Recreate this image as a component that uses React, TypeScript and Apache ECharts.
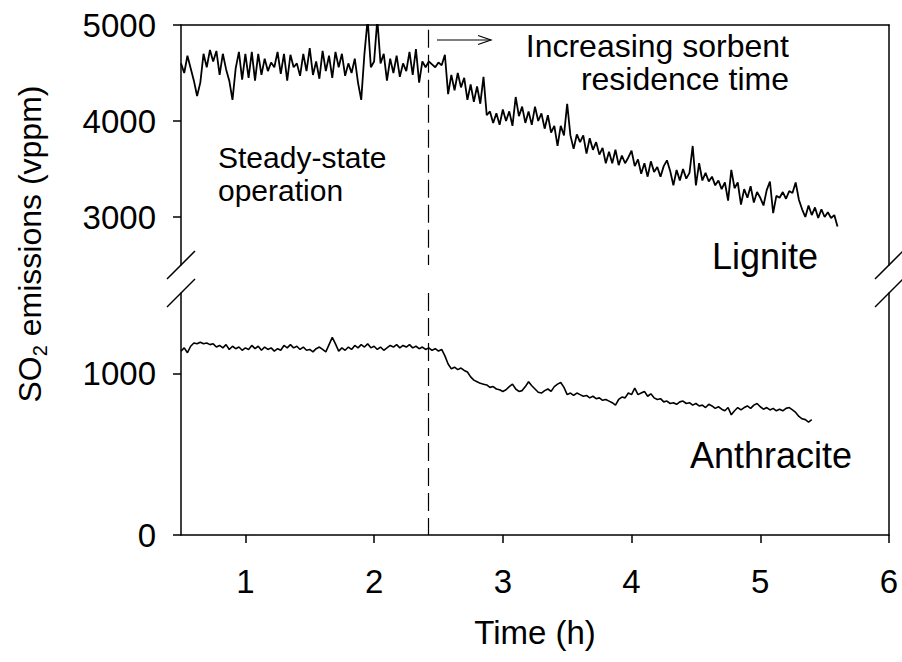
import React, { useEffect, useRef } from "react";
import * as echarts from "echarts";

// Time grid of the traces (h)
const T_START = 0.5;
const T_STEP = 0.025;

// SO2 emissions, lignite (vppm), every 0.025 h from 0.5 h
const lignite: number[] = [
  4600, 4500, 4680, 4550, 4420, 4260, 4400, 4700, 4560, 4740,
  4620, 4730, 4480, 4700, 4540, 4420, 4220, 4550, 4720, 4430,
  4700, 4450, 4720, 4420, 4700, 4480, 4650, 4520, 4610, 4560,
  4720, 4490, 4700, 4420, 4690, 4560, 4600, 4470, 4700, 4520,
  4760, 4480, 4620, 4440, 4730, 4520, 4680, 4450, 4720, 4560,
  4700, 4470, 4600, 4500, 4650, 4400, 4220, 4700, 5060, 4560,
  4620, 5060, 4600, 4700, 4420, 4650, 4500, 4680, 4460, 4600,
  4520, 4720, 4480, 4750, 4400, 4620, 4560, 4620, 4590, 4560,
  4610, 4580, 4690, 4280, 4480, 4320, 4500, 4350, 4450, 4220,
  4380, 4200, 4360, 4180, 4460, 4060, 4100, 3980, 4080, 3960,
  4120, 4000, 4100, 3950, 4250, 4050, 4150, 3980, 4100, 3960,
  4150, 4000, 4080, 3920, 4060, 3880, 3950, 3740, 3950, 3850,
  4180, 3850, 3710, 3860, 3780, 3850, 3660, 3820, 3700, 3780,
  3650, 3720, 3560, 3680, 3560, 3700, 3540, 3640, 3560, 3620,
  3690, 3530, 3600, 3450, 3560, 3420, 3580, 3470, 3520, 3420,
  3530, 3590, 3480, 3330, 3490, 3380, 3500, 3400, 3460, 3740,
  3330, 3560, 3380, 3460, 3370, 3420, 3330, 3380, 3290, 3360,
  3170, 3490, 3300, 3360, 3130, 3290, 3200, 3320, 3150, 3260,
  3200, 3120, 3280, 3370, 3040, 3220, 3200, 3260, 3190, 3270,
  3250, 3360, 3180, 3080, 3000, 3120, 3020, 3100, 2990, 3080,
  3000, 3050, 2990, 3020, 2900,
];

// SO2 emissions, anthracite (vppm), every 0.025 h from 0.5 h
const anthracite: number[] = [
  1140, 1160, 1130, 1170, 1190, 1185, 1195, 1185, 1190, 1180,
  1185, 1165, 1175, 1160, 1180, 1150, 1170, 1155, 1165, 1145,
  1160, 1150, 1175, 1155, 1170, 1145, 1165, 1150, 1160, 1140,
  1155, 1145, 1175, 1160, 1180, 1160, 1170, 1150, 1165, 1145,
  1150, 1135, 1155, 1165, 1150, 1135, 1180, 1225, 1185, 1140,
  1160, 1145, 1165, 1150, 1175, 1160, 1180, 1165, 1185, 1160,
  1170, 1150, 1165, 1145, 1160, 1175, 1165, 1180, 1160, 1175,
  1165, 1180, 1160, 1170, 1155, 1165, 1150, 1160, 1145, 1155,
  1140, 1150, 1110, 1060, 1030, 1040, 1025, 1035, 1020, 1010,
  980, 960, 950, 940, 935, 930, 915, 920, 905, 900,
  890, 900, 920, 935, 905, 890, 895, 920, 950, 925,
  905, 885, 880, 895, 905, 890, 920, 935, 945, 915,
  870, 880, 865, 880, 870, 860, 865, 850, 860, 845,
  850, 835, 840, 830, 820, 805, 840, 855, 850, 880,
  870, 910, 870, 880, 890, 860, 875, 850, 840, 845,
  825, 830, 815, 820, 810, 825, 830, 815, 820, 805,
  815, 800, 805, 790, 810, 800, 785, 795, 780, 770,
  790, 745, 770, 790, 775, 790, 800, 785, 805, 815,
  795, 780, 790, 775, 785, 770, 780, 770, 785, 790,
  775, 760, 735, 720, 715, 700, 715,
];

const xTicks = [1, 2, 3, 4, 5, 6];
const upperTicks = [3000, 4000, 5000];
const lowerTicks = [0, 1000];
const changeTime = 2.42;

const FONT = "'Liberation Sans', Arial, Helvetica, sans-serif";

export default function App() {
  const ref = useRef<HTMLDivElement>(null);

  useEffect(() => {
    if (!ref.current) return;
    const chart = echarts.init(ref.current, null, { renderer: "svg" });

    const lignData = lignite.map((v, i) => [T_START + i * T_STEP, v]);
    const anthData = anthracite.map((v, i) => [T_START + i * T_STEP, v]);

    const axisLine = { show: true, onZero: false, lineStyle: { color: "#000", width: 1.5 } };
    const tickStyle = { color: "#000", width: 1.5 };
    const labelStyle = {
      color: "#000", fontSize: 33, fontFamily: FONT,
      formatter: (v: number) => String(v),
    };

    const L = 181, R = 889;
    const gTop = 25, gMid1 = 265, gMid2 = 293, gBot = 535;

    const brk = (x: number, y: number) => ({
      type: "line",
      shape: { x1: x - 14, y1: y + 14, x2: x + 14, y2: y - 14 },
      style: { stroke: "#000", lineWidth: 1.5 },
    });

    const dashStyle = { color: "#000", width: 1.2, type: [18, 7] as number[] };

    chart.setOption({
      animation: false,
      backgroundColor: "#fff",
      grid: [
        { left: L, right: 902 - R, top: gTop, height: gMid1 - gTop },
        { left: L, right: 902 - R, top: gMid2, height: gBot - gMid2 },
      ],
      xAxis: [
        {
          gridIndex: 0, type: "value", min: 0.5, max: 6, position: "top",
          axisLine, axisTick: { show: false }, axisLabel: { show: false }, splitLine: { show: false },
        },
        {
          gridIndex: 1, type: "value", min: 0.5, max: 6, position: "bottom",
          axisLine,
          axisTick: { show: true, inside: false, length: 8, lineStyle: tickStyle, customValues: xTicks },
          axisLabel: { ...labelStyle, margin: 30, customValues: xTicks },
          splitLine: { show: false },
        },
      ],
      yAxis: [
        {
          gridIndex: 0, type: "value", min: 2500, max: 5000, position: "left",
          axisLine,
          axisTick: { show: true, inside: false, length: 8, lineStyle: tickStyle, customValues: upperTicks },
          axisLabel: { ...labelStyle, margin: 25, customValues: upperTicks },
          splitLine: { show: false },
        },
        {
          gridIndex: 1, type: "value", min: 0, max: 1500, position: "left",
          axisLine,
          axisTick: { show: true, inside: false, length: 8, lineStyle: tickStyle, customValues: lowerTicks },
          axisLabel: { ...labelStyle, margin: 25, customValues: lowerTicks },
          splitLine: { show: false },
        },
        {
          gridIndex: 0, type: "value", min: 2500, max: 5000, position: "right",
          axisLine, axisTick: { show: false }, axisLabel: { show: false }, splitLine: { show: false },
        },
        {
          gridIndex: 1, type: "value", min: 0, max: 1500, position: "right",
          axisLine, axisTick: { show: false }, axisLabel: { show: false }, splitLine: { show: false },
        },
      ],
      series: [
        {
          name: "Lignite", type: "line", xAxisIndex: 0, yAxisIndex: 0,
          data: lignData, showSymbol: false, symbol: "none", clip: true,
          lineStyle: { color: "#000", width: 1.8 },
          markLine: {
            silent: true, symbol: "none", label: { show: false },
            lineStyle: dashStyle,
            data: [[{ coord: [changeTime, 4950] }, { coord: [changeTime, 2500] }]],
          },
        },
        {
          name: "Anthracite", type: "line", xAxisIndex: 1, yAxisIndex: 1,
          data: anthData, showSymbol: false, symbol: "none", clip: true,
          lineStyle: { color: "#000", width: 1.6 },
          markLine: {
            silent: true, symbol: "none", label: { show: false },
            lineStyle: dashStyle,
            data: [[{ coord: [changeTime, 1500] }, { coord: [changeTime, 0] }]],
          },
        },
      ],
      graphic: [
        // axis breaks
        brk(L, gMid1), brk(L, gMid2), brk(R, gMid1), brk(R, gMid2),
        // arrow
        {
          type: "line",
          shape: { x1: 437, y1: 40, x2: 491, y2: 40 },
          style: { stroke: "#000", lineWidth: 1.2 },
        },
        {
          type: "polyline",
          shape: { points: [[478, 35.5], [491, 40], [478, 44.5]] },
          style: { stroke: "#000", lineWidth: 1.2, fill: "none" },
        },
        {
          type: "text", x: 218, y: 141,
          style: {
            text: "Steady-state\noperation", font: `30px ${FONT}`, fill: "#000",
            align: "left", verticalAlign: "top", lineHeight: 33,
          },
        },
        {
          type: "text", x: 789, y: 29,
          style: {
            text: "Increasing sorbent\nresidence time", font: `32px ${FONT}`, fill: "#000",
            align: "right", verticalAlign: "top", lineHeight: 33,
          },
        },
        {
          type: "text", x: 712, y: 256,
          style: { text: "Lignite", font: `36px ${FONT}`, fill: "#000", align: "left", verticalAlign: "middle" },
        },
        {
          type: "text", x: 690, y: 455,
          style: { text: "Anthracite", font: `36px ${FONT}`, fill: "#000", align: "left", verticalAlign: "middle" },
        },
        {
          type: "text", x: 535, y: 632,
          style: { text: "Time (h)", font: `33px ${FONT}`, fill: "#000", align: "center", verticalAlign: "middle" },
        },
        {
          type: "text", x: 30, y: 244, rotation: Math.PI / 2,
          style: {
            text: "{a|SO}{b|2}{a| emissions (vppm)}",
            align: "center", verticalAlign: "middle", fill: "#000",
            rich: {
              a: { fontSize: 32, fontFamily: FONT, lineHeight: 40, fill: "#000" },
              b: { fontSize: 20, fontFamily: FONT, lineHeight: 14, verticalAlign: "bottom", fill: "#000" },
            },
          },
        },
      ],
    });

    return () => chart.dispose();
  }, []);

  return <div ref={ref} style={{ width: 902, height: 662, position: "absolute", left: 0, top: 0 }} />;
}
